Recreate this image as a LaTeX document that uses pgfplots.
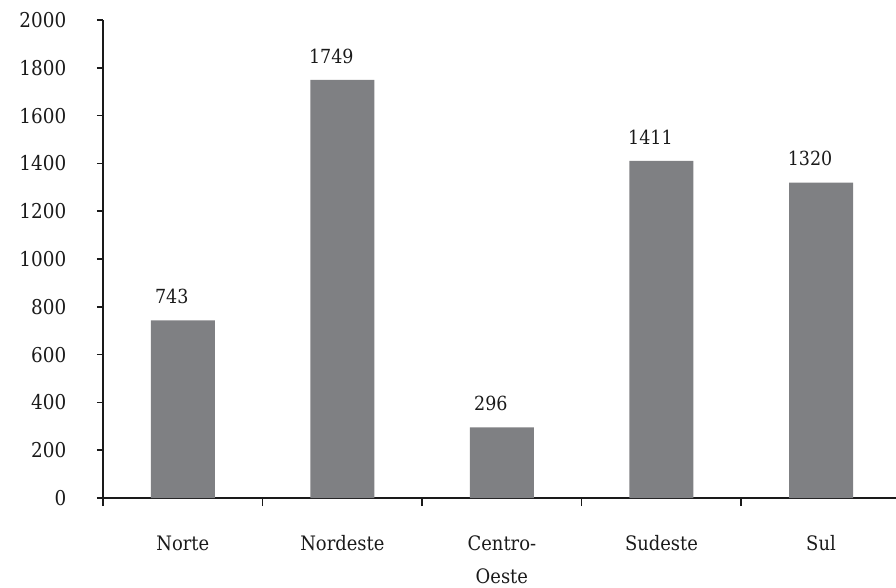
\documentclass[border=0pt]{standalone}
\usepackage{fontspec}
\setmainfont{DejaVu Serif Condensed}
\usepackage{pgfplots}
\pgfplotsset{compat=1.18}
\definecolor{bargray}{HTML}{7F8083}
\definecolor{txt}{HTML}{1A1A1A}
\begin{document}
\begin{tikzpicture}
\begin{axis}[
  scale only axis, width=793bp, height=478bp,
  xmin=-0.5, xmax=4.47, ymin=0, ymax=2000,
  axis lines*=left,
  axis line style={draw=txt, line width=1.7bp},
  tick align=outside,
  ytick={0,200,...,2000},
  y tick style={draw=txt, line width=1.5bp, /pgfplots/major tick length=6bp},
  y tick label style={font=\fontsize{20.5}{22}\selectfont, text=txt, xshift=-29bp},
  /pgf/number format/assume math mode=true,
  /pgf/number format/1000 sep={},
  xtick={0,1,2,3,4},
  xticklabels={Norte,Nordeste,{Centro-\\Oeste},Sudeste,Sul},
  x tick style={draw=none, /pgfplots/major tick length=0bp},
  x tick label style={font=\fontsize{20}{33}\selectfont, text=txt, align=center, anchor=north, yshift=-30bp},
  extra x ticks={-0.5,0.5,1.5,2.5,3.5},
  extra x tick labels={},
  extra x tick style={x tick style={draw=txt, line width=1.5bp, /pgfplots/major tick length=8bp}},
  ybar, bar width=64bp,
  nodes near coords,
  nodes near coords style={font=\fontsize{19.5}{20}\selectfont, text=txt, yshift=13bp, xshift=-11bp},
  clip=false,
]
\addplot[fill=bargray, draw=none] coordinates {(0,743) (1,1749) (2,296) (3,1411) (4,1320)};
\end{axis}
\pgfresetboundingbox
\path (-103bp,-90bp) rectangle (793bp,498bp);
\end{tikzpicture}
\end{document}
